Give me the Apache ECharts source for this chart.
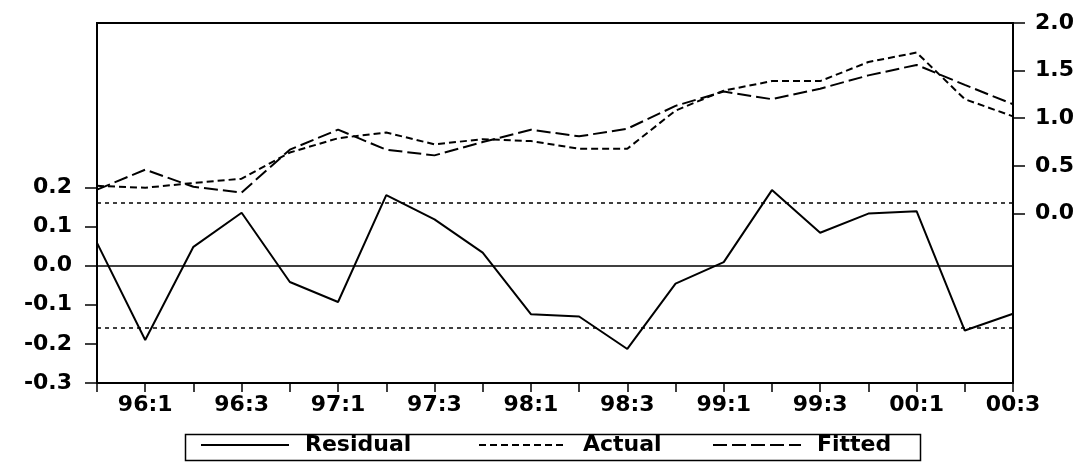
<!DOCTYPE html>
<html>
<head>
<meta charset="utf-8">
<script src="https://cdn.jsdelivr.net/npm/echarts@6/dist/echarts.min.js"></script>
<style>
  html, body { margin: 0; padding: 0; background: #fff; }
  #chart { width: 1092px; height: 462px; }
</style>
</head>
<body>
<div id="chart"></div>
<script>
// quarters 95:4 .. 00:3
var quarters = ['95:4', '96:1', '96:2', '96:3', '96:4', '97:1', '97:2', '97:3', '97:4',
  '98:1', '98:2', '98:3', '98:4', '99:1', '99:2', '99:3', '99:4', '00:1', '00:2', '00:3'];

var residual = [0.058, -0.19, 0.048, 0.135, -0.042, -0.093, 0.18, 0.118, 0.033, -0.124,
  -0.13, -0.213, -0.046, 0.009, 0.193, 0.084, 0.133, 0.139, -0.166, -0.123];
var actual = [0.29, 0.27, 0.32, 0.365, 0.64, 0.79, 0.85, 0.726, 0.78, 0.76,
  0.68, 0.68, 1.08, 1.29, 1.39, 1.39, 1.59, 1.69, 1.2, 1.02];
var fitted = [0.25, 0.46, 0.28, 0.22, 0.67, 0.88, 0.67, 0.61, 0.75, 0.88,
  0.81, 0.89, 1.13, 1.28, 1.2, 1.31, 1.45, 1.56, 1.35, 1.147];

var seBand = [-0.157, 0.157]; // +/- 1 S.E. of residuals
var leftTicks = [-0.3, -0.2, -0.1, 0.0, 0.1, 0.2];
var rightTicks = [0.0, 0.5, 1.0, 1.5, 2.0];

var font = 'DejaVu Sans';
var txt = { color: '#000', fontFamily: font, fontWeight: 'bold', fontSize: 22 };

var chart = echarts.init(document.getElementById('chart'), null, { renderer: 'canvas' });

function legendAt(name, left) {
  return {
    data: [name],
    left: left,
    top: 434,
    padding: 0,
    itemWidth: 88,
    itemHeight: 14,
    selectedMode: false,
    itemStyle: { opacity: 0 },
    textStyle: Object.assign({}, txt, { padding: [0, 0, 0, 11], lineHeight: 22 })
  };
}

var option = {
  backgroundColor: '#fff',
  animation: false,
  grid: {
    left: 97, right: 79, top: 23, bottom: 79,
    show: true, borderColor: '#000', borderWidth: 2
  },
  legend: [legendAt('Residual', 200), legendAt('Actual', 478), legendAt('Fitted', 712)],
  graphic: [{
    type: 'rect',
    left: 183, top: 432,
    shape: { width: 735, height: 26 },
    style: { fill: 'none', stroke: '#000', lineWidth: 1.5 }
  }],
  xAxis: {
    type: 'category',
    data: quarters,
    boundaryGap: false,
    axisLine: { onZero: false, lineStyle: { color: '#000', width: 2 } },
    axisTick: { interval: 0, length: 9, lineStyle: { color: '#000', width: 1.5 } },
    axisLabel: Object.assign({}, txt, {
      interval: function (i) { return i % 2 === 1; },
      margin: 11
    }),
    splitLine: { show: false }
  },
  yAxis: [{
    type: 'value',
    position: 'left',
    min: -0.3, max: 0.62,
    axisLine: { show: true, lineStyle: { color: '#000', width: 2 } },
    axisTick: { show: true, length: 12, customValues: leftTicks, lineStyle: { color: '#000', width: 1.5 } },
    axisLabel: Object.assign({}, txt, {
      margin: 25,
      customValues: leftTicks,
      formatter: function (v) { return v.toFixed(1); }
    }),
    splitLine: { show: false }
  }, {
    type: 'value',
    position: 'right',
    min: -1.78, max: 2.0,
    axisLine: { show: true, lineStyle: { color: '#000', width: 2 } },
    axisTick: { show: true, length: 12, customValues: rightTicks, lineStyle: { color: '#000', width: 1.5 } },
    axisLabel: Object.assign({}, txt, {
      margin: 22,
      customValues: rightTicks,
      formatter: function (v) { return v.toFixed(1); }
    }),
    splitLine: { show: false }
  }],
  series: [{
    name: 'Residual',
    type: 'line',
    yAxisIndex: 0,
    data: residual,
    symbol: 'none',
    color: '#000',
    lineStyle: { color: '#000', width: 2 },
    markLine: {
      silent: true,
      symbol: 'none',
      label: { show: false },
      data: [
        { yAxis: 0, lineStyle: { type: 'solid', width: 1.5, color: '#000' } },
        { yAxis: seBand[0], lineStyle: { type: [4, 4], width: 1.5, color: '#000' } },
        { yAxis: seBand[1], lineStyle: { type: [4, 4], width: 1.5, color: '#000' } }
      ]
    }
  }, {
    name: 'Actual',
    type: 'line',
    yAxisIndex: 1,
    data: actual,
    symbol: 'none',
    color: '#000',
    lineStyle: { color: '#000', width: 2, type: [7, 4] }
  }, {
    name: 'Fitted',
    type: 'line',
    yAxisIndex: 1,
    data: fitted,
    symbol: 'none',
    color: '#000',
    lineStyle: { color: '#000', width: 2, type: [14, 5] }
  }]
};

chart.setOption(option);
</script>
</body>
</html>
